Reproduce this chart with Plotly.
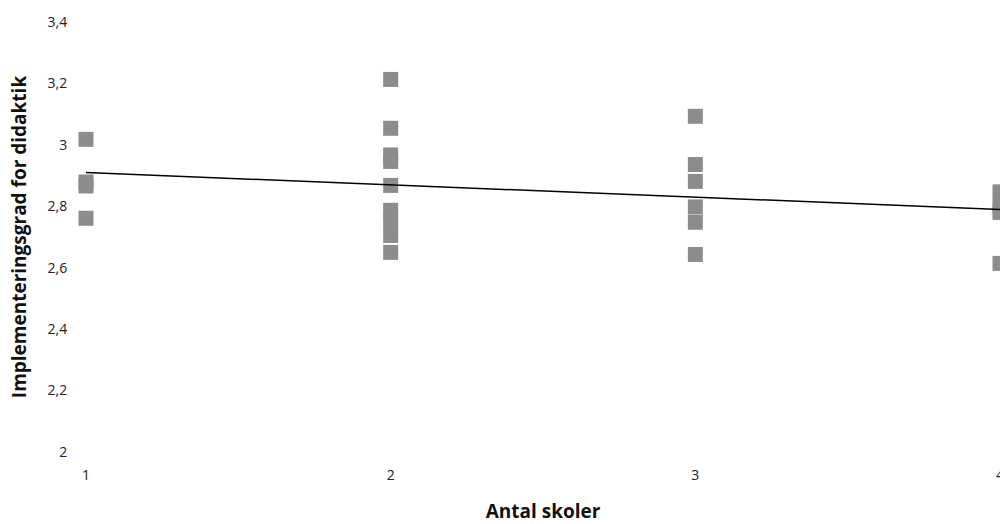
import numpy as np
import plotly.graph_objects as go

# Data
x_schools = [1, 1, 1, 1,
             2, 2, 2, 2, 2, 2, 2, 2, 2,
             3, 3, 3, 3, 3, 3,
             4, 4, 4, 4]
y_impl = [3.018, 2.879, 2.866, 2.761,
          3.213, 3.054, 2.967, 2.946, 2.868, 2.787, 2.749, 2.705, 2.650,
          3.093, 2.936, 2.881, 2.798, 2.748, 2.643,
          2.847, 2.800, 2.780, 2.614]
x_ticks = [1, 2, 3, 4]
y_ticks = [2, 2.2, 2.4, 2.6, 2.8, 3, 3.2, 3.4]
y_ticklabels = ["2", "2,2", "2,4", "2,6", "2,8", "3", "3,2", "3,4"]

# Linear trend line
slope, intercept = np.polyfit(x_schools, y_impl, 1)
trend_x = [min(x_ticks), max(x_ticks)]
trend_y = [slope * v + intercept for v in trend_x]

font_family = "'Open Sans', 'Noto Sans', sans-serif"

fig = go.Figure()
fig.add_trace(go.Scatter(
    x=x_schools, y=y_impl, mode="markers",
    marker=dict(symbol="square", size=15, color="#8c8c8c", line=dict(width=0)),
    cliponaxis=False, showlegend=False, hoverinfo="x+y",
))
fig.add_trace(go.Scatter(
    x=trend_x, y=trend_y, mode="lines",
    line=dict(color="black", width=1.5),
    cliponaxis=False, showlegend=False,
))

fig.update_layout(
    width=1000, height=524,
    margin=dict(l=86, r=0, t=22, b=72),
    paper_bgcolor="white", plot_bgcolor="white",
    font=dict(family=font_family, color="#222222"),
    xaxis=dict(
        range=[1, 4.0], tickvals=x_ticks, ticktext=[str(v) for v in x_ticks],
        showgrid=False, zeroline=False, showline=False,
        ticks="outside", ticklen=10, tickcolor="rgba(0,0,0,0)",
        ticklabeloverflow="allow", automargin="height",
        tickfont=dict(size=14, family=font_family, color="#222222"),
        title=dict(text="<b>Antal skoler</b>", font=dict(size=19, family=font_family, color="#111111"),
                   standoff=26),
    ),
    yaxis=dict(
        range=[2, 3.4], tickvals=y_ticks, ticktext=y_ticklabels,
        showgrid=False, zeroline=False, showline=False,
        ticks="outside", ticklen=15, tickcolor="rgba(0,0,0,0)",
        tickfont=dict(size=14, family=font_family, color="#222222"),
        title=dict(text="<b>Implementeringsgrad for didaktik</b>",
                   font=dict(size=19, family=font_family, color="#111111"), standoff=15),
    ),
)

# Remove the default page margin so the figure fills the 1000x524 window exactly
fig.write_html(
    "out.html",
    config={"displayModeBar": False},
    post_script="document.body.style.margin='0';document.body.style.overflow='hidden';",
)
